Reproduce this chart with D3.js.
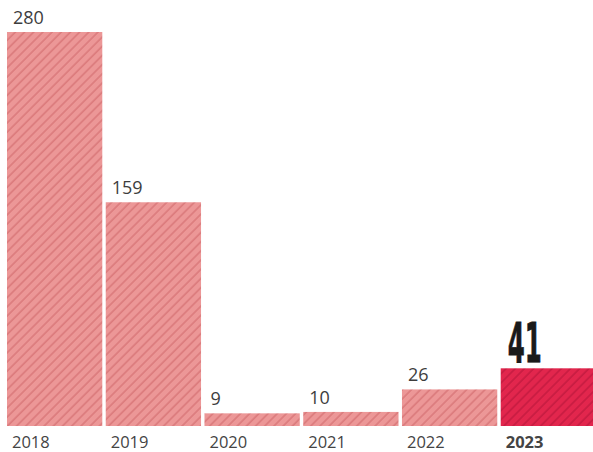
<!DOCTYPE html>
<html>
<head>
<meta charset="utf-8">
<script src="https://cdn.jsdelivr.net/npm/d3@7/dist/d3.min.js"></script>
<style>
  body { margin: 0; background: #fff; }
  svg { display: block; }
</style>
</head>
<body>
<div id="chart"></div>
<script>
// chart data
var years = ["2018", "2019", "2020", "2021", "2022", "2023"];
var counts = [280, 159, 9, 10, 26, 41];

var width = 593, height = 452;
var baseline = 426;

var svg = d3.select("#chart")
    .append("svg")
    .attr("width", width)
    .attr("height", height);

// hatch patterns
var defs = svg.append("defs");
function addHatch(id, bg, line) {
    var p = defs.append("pattern")
        .attr("id", id)
        .attr("patternUnits", "userSpaceOnUse")
        .attr("width", 6.5)
        .attr("height", 6.5)
        .attr("patternTransform", "rotate(45)");
    p.append("rect")
        .attr("width", 6.5)
        .attr("height", 6.5)
        .attr("fill", bg);
    p.append("line")
        .attr("x1", 1).attr("y1", 0)
        .attr("x2", 1).attr("y2", 6.5)
        .attr("stroke", line)
        .attr("stroke-width", 1.5);
}
addHatch("hatchPink", "#ec9797", "#da787a");
addHatch("hatchRed", "#e2264d", "#c51b40");

// scales
var xScale = d3.scaleBand()
    .domain(years)
    .range([7, 596])
    .paddingInner(0.035)
    .paddingOuter(0);

var yScale = d3.scaleLinear()
    .domain([0, 280])
    .range([baseline, 32]);

var last = years.length - 1;

// bars
svg.selectAll("rect.bar")
    .data(counts)
    .enter()
    .append("rect")
    .attr("class", "bar")
    .attr("x", function(d, i) { return xScale(years[i]); })
    .attr("y", function(d) { return yScale(d); })
    .attr("width", xScale.bandwidth())
    .attr("height", function(d) { return baseline - yScale(d); })
    .attr("fill", function(d, i) {
        return i == last ? "url(#hatchRed)" : "url(#hatchPink)";
    });

// value labels (all but the highlighted one)
svg.selectAll("text.value")
    .data(counts.slice(0, last))
    .enter()
    .append("text")
    .attr("class", "value")
    .attr("x", function(d, i) { return xScale(years[i]) + 6; })
    .attr("y", function(d) { return yScale(d) - 8; })
    .attr("font-family", "'Open Sans', sans-serif")
    .attr("font-size", "18px")
    .attr("fill", "#3d3d3d")
    .text(function(d) { return d; });

// highlighted value, tall condensed
svg.append("text")
    .attr("x", xScale(years[last]) + 7)
    .attr("y", yScale(counts[last]) - 6)
    .attr("font-family", "'Liberation Sans Narrow', 'DejaVu Sans Condensed', sans-serif")
    .attr("font-size", "55px")
    .attr("font-weight", "bold")
    .attr("fill", "#1a1a1a")
    .attr("stroke", "#1a1a1a")
    .attr("stroke-width", 0.8)
    .attr("textLength", 34)
    .attr("lengthAdjust", "spacingAndGlyphs")
    .text(counts[last]);

// x axis labels
var xAxis = d3.axisBottom(xScale).tickSize(0).tickPadding(0);
var axisG = svg.append("g")
    .attr("transform", "translate(0," + baseline + ")")
    .call(xAxis);
axisG.select(".domain").remove();
axisG.selectAll("text")
    .attr("text-anchor", "start")
    .attr("x", function() { return 5 - xScale.bandwidth() / 2; })
    .attr("y", 22)
    .attr("dy", 0)
    .attr("font-family", "'Open Sans', sans-serif")
    .attr("font-size", "16.5px")
    .attr("font-weight", function(d) { return d == "2023" ? "bold" : "normal"; })
    .attr("fill", "#444");
</script>
</body>
</html>
